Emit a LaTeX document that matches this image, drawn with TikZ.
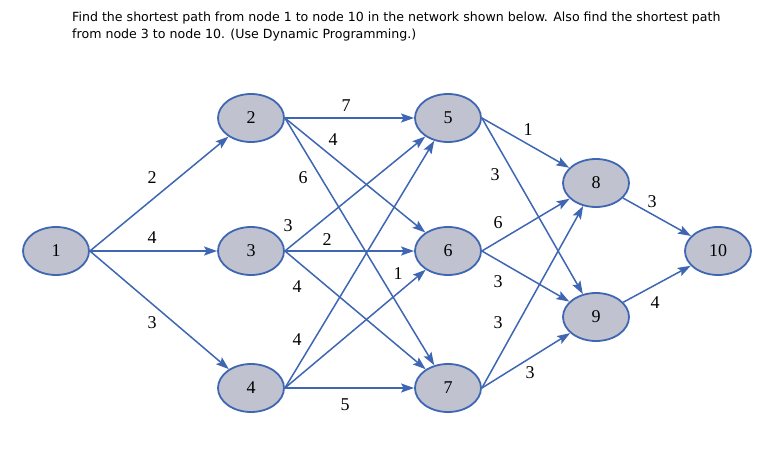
\documentclass[tikz,border=0pt]{standalone}
\usepackage{fontspec}
\setmainfont{Liberation Serif}
\newfontfamily\qfont{DejaVu Sans}
\usetikzlibrary{shapes.geometric,arrows.meta}
\definecolor{nodefill}{RGB}{192,195,207}
\definecolor{netblue}{RGB}{62,102,178}

\begin{document}
\begin{tikzpicture}[x=1pt,y=-1pt,
  vtx/.style={ellipse,draw=netblue,line width=1.8pt,fill=nodefill,minimum width=66pt,minimum height=48pt,inner sep=0pt,font=\fontsize{18}{18}\selectfont},
  arc/.style={draw=netblue,line width=1.5pt,-{Stealth[length=13pt,width=9pt,inset=2.5pt]}},
  wt/.style={font=\fontsize{18}{18}\selectfont,inner sep=0pt}]
\useasboundingbox (0,0) rectangle (777,448);

\node[anchor=north west,align=left,inner sep=0pt,font=\qfont\fontsize{12.6}{17}\selectfont] (q) at (72,11.5) {Find the shortest path from node 1 to node 10 in the network shown below. Also find the shortest path\\from node 3 to node 10. (Use Dynamic Programming.)};

\node[vtx] (v1) at (56,251) {1};
\node[vtx] (v2) at (251,118) {2};
\node[vtx] (v3) at (251,251) {3};
\node[vtx] (v4) at (251,388) {4};
\node[vtx] (v5) at (448,118) {5};
\node[vtx] (v6) at (448,251) {6};
\node[vtx] (v7) at (448,388) {7};
\node[vtx] (v8) at (596,183) {8};
\node[vtx] (v9) at (596,317) {9};
\node[vtx] (v10) at (718,251) {10};

\draw[arc] (v1.east) -- (v2);
\draw[arc] (v1.east) -- (v3);
\draw[arc] (v1.east) -- (v4);
\draw[arc] (v2.east) -- (v5);
\draw[arc] (v2.east) -- (v6);
\draw[arc] (v2.east) -- (v7);
\draw[arc] (v3.east) -- (v5);
\draw[arc] (v3.east) -- (v6);
\draw[arc] (v3.east) -- (v7);
\draw[arc] (v4.east) -- (v5);
\draw[arc] (v4.east) -- (v6);
\draw[arc] (v4.east) -- (v7);
\draw[arc] (v5.east) -- (v8);
\draw[arc] (v5.east) -- (v9);
\draw[arc] (v6.east) -- (v8);
\draw[arc] (v6.east) -- (v9);
\draw[arc] (v7.east) -- (v8);
\draw[arc] (v7.east) -- (v9);
\draw[arc] (v8) -- (v10);
\draw[arc] (v9) -- (v10);

% weights
\node[wt] (w12) at (152,178) {2};
\node[wt] (w13) at (152,238) {4};
\node[wt] (w14) at (152,323) {3};
\node[wt] (w25) at (346,106) {7};
\node[wt] (w26) at (333,140) {4};
\node[wt] (w27) at (303,178) {6};
\node[wt] (w35) at (288,226) {3};
\node[wt] (w36) at (327,240) {2};
\node[wt] (w37) at (297,287) {4};
\node[wt] (w45) at (297,340) {4};
\node[wt] (w46) at (398,274) {1};
\node[wt] (w47) at (345,405) {5};
\node[wt] (w58) at (528,130) {1};
\node[wt] (w59) at (495,175) {3};
\node[wt] (w68) at (498,223) {6};
\node[wt] (w69) at (498,282) {3};
\node[wt] (w78) at (498,323) {3};
\node[wt] (w79) at (530,373) {3};
\node[wt] (w810) at (652,202) {3};
\node[wt] (w910) at (655,303) {4};
\end{tikzpicture}
\end{document}
